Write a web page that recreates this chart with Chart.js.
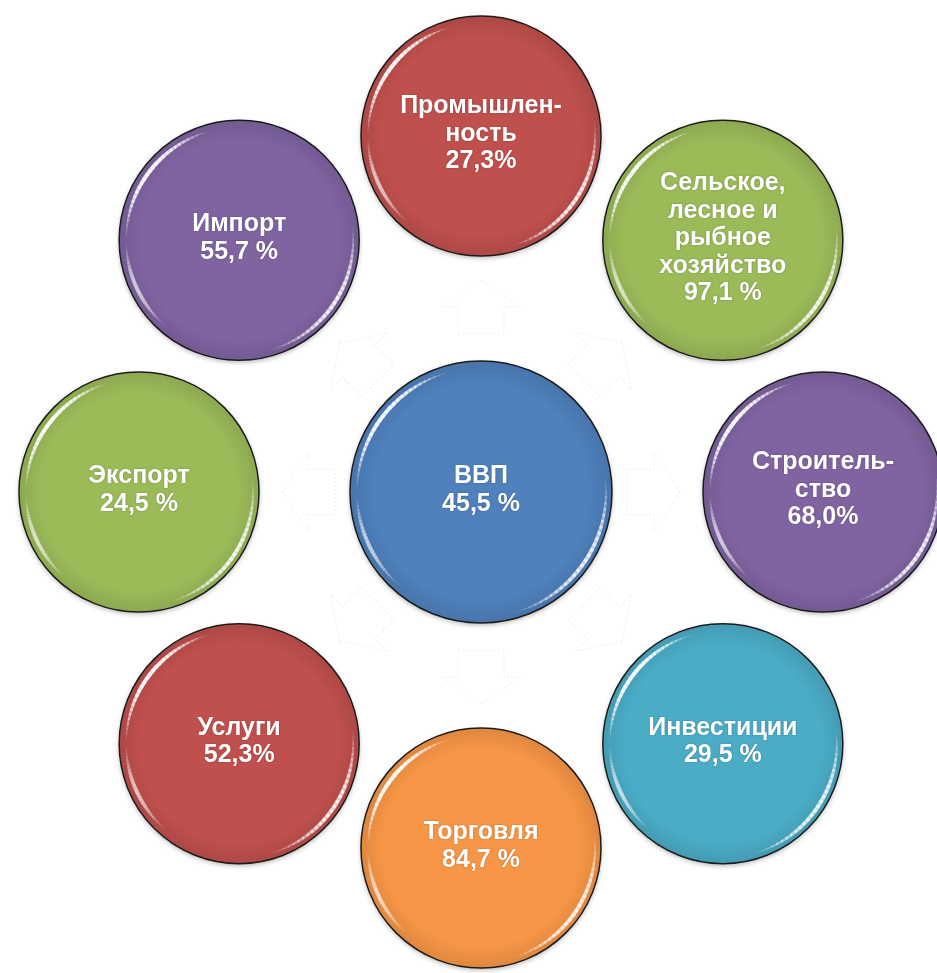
<!DOCTYPE html>
<html lang="ru">
<head>
<meta charset="utf-8">
<title>ВВП</title>
<script src="https://cdn.jsdelivr.net/npm/chart.js@4.4.1/dist/chart.umd.min.js"></script>
<style>
  html, body { margin: 0; padding: 0; background: #ffffff; }
  #contenedor { width: 937px; height: 973px; position: relative; }
</style>
</head>
<body>
<div id="contenedor"><canvas id="graficoCirculos"></canvas></div>
<script>
// Datos del gráfico (el primero es el círculo central)
const rotulos = [
  'ВВП',
  'Промышлен-\nность',
  'Сельское,\nлесное и\nрыбное\nхозяйство',
  'Строитель-\nство',
  'Инвестиции',
  'Торговля',
  'Услуги',
  'Экспорт',
  'Импорт'
];
const valores = [45.5, 27.3, 97.1, 68.0, 29.5, 84.7, 52.3, 24.5, 55.7];
const textosValor = ['45,5 %', '27,3%', '97,1 %', '68,0%', '29,5 %', '84,7 %', '52,3%', '24,5 %', '55,7 %'];
const colores = ['#4f81bd', '#c0504d', '#9bbb59', '#8064a2', '#4bacc6', '#f79646', '#c0504d', '#9bbb59', '#8064a2'];

// Radios de los círculos en píxeles
const RADIO_CENTRO = 131;
const RADIO_EXTERIOR = 120;

// Función para armar los puntos del gráfico de burbujas (anillo alrededor del centro)
function armarPuntos() {
  const puntos = [];
  for (let i = 0; i < rotulos.length; i++) {
    if (i === 0) {
      puntos.push({ x: 0, y: 0, r: RADIO_CENTRO, v: valores[i] });
    } else {
      let ang = (i - 1) * Math.PI / 4;
      puntos.push({ x: Math.sin(ang), y: Math.cos(ang), r: RADIO_EXTERIOR, v: valores[i] });
    }
  }
  return puntos;
}

// Flechas tenues entre el centro y los círculos exteriores
const pluginFlechas = {
  id: 'flechas',
  beforeDatasetsDraw(chart) {
    const ctx = chart.ctx;
    const cx = chart.scales.x.getPixelForValue(0);
    const cy = chart.scales.y.getPixelForValue(0);
    for (let i = 0; i < 8; i++) {
      let ang = i * Math.PI / 4;
      ctx.save();
      ctx.translate(cx + Math.sin(ang) * 172, cy - Math.cos(ang) * 184);
      ctx.rotate(ang);
      ctx.beginPath();
      ctx.moveTo(0, -27);
      ctx.lineTo(40, -1);
      ctx.lineTo(23, -1);
      ctx.lineTo(23, 26);
      ctx.lineTo(-23, 26);
      ctx.lineTo(-23, -1);
      ctx.lineTo(-40, -1);
      ctx.closePath();
      ctx.setLineDash([1.5, 2.5]);
      ctx.lineWidth = 1;
      ctx.strokeStyle = 'rgba(190,190,190,0.35)';
      ctx.stroke();
      ctx.restore();
    }
    // sombra suave debajo de cada círculo
    const meta = chart.getDatasetMeta(0);
    meta.data.forEach(function(el, i) {
      ctx.save();
      ctx.beginPath();
      ctx.arc(el.x, el.y, el.options.radius, 0, Math.PI * 2);
      ctx.shadowColor = 'rgba(0,0,0,0.3)';
      ctx.shadowBlur = 5;
      ctx.shadowOffsetY = 2;
      ctx.fillStyle = colores[i];
      ctx.fill();
      ctx.restore();
    });
  }
};

// Brillo y textos sobre los círculos
const pluginBrillo = {
  id: 'brillo',
  afterDatasetsDraw(chart) {
    const ctx = chart.ctx;
    const meta = chart.getDatasetMeta(0);
    meta.data.forEach(function(el, i) {
      const x = el.x, y = el.y, r = el.options.radius;
      ctx.save();
      ctx.beginPath();
      ctx.arc(x, y, r - 1, 0, Math.PI * 2);
      ctx.clip();
      // borde interior más oscuro
      let g = ctx.createRadialGradient(x, y, r * 0.82, x, y, r);
      g.addColorStop(0, 'rgba(0,0,0,0)');
      g.addColorStop(1, 'rgba(0,0,0,0.1)');
      ctx.fillStyle = g;
      ctx.fillRect(x - r, y - r, 2 * r, 2 * r);
      // arcos brillantes
      dibujarArco(ctx, x, y, r - 7, Math.PI * 1.0, Math.PI * 1.42, 0.85);
      dibujarArco(ctx, x, y, r - 7, Math.PI * 0.72, Math.PI * 1.0, 0.4);
      dibujarArco(ctx, x, y, r - 6, Math.PI * -0.05, Math.PI * 0.42, 0.7);
      ctx.restore();

      // texto
      const lineas = rotulos[i].split('\n').concat([textosValor[i]]);
      const alto = 27.5;
      ctx.save();
      ctx.font = 'bold 25px "Liberation Sans", Arial, sans-serif';
      ctx.fillStyle = '#ffffff';
      ctx.textAlign = 'center';
      ctx.textBaseline = 'middle';
      ctx.shadowColor = 'rgba(0,0,0,0.3)';
      ctx.shadowBlur = 2;
      let y0 = y - (lineas.length - 1) * alto / 2 - 2;
      lineas.forEach(function(t, k) {
        ctx.fillText(t, x, y0 + k * alto);
      });
      ctx.restore();
    });
  }
};

// Función para dibujar un arco blanco que se desvanece en los extremos
function dibujarArco(ctx, x, y, r, a0, a1, alfa) {
  const pasos = 30;
  ctx.lineCap = 'round';
  for (let k = 0; k < pasos; k++) {
    let t = (k + 0.5) / pasos;
    let a = a0 + (a1 - a0) * k / pasos;
    let b = a0 + (a1 - a0) * (k + 1) / pasos;
    ctx.beginPath();
    ctx.arc(x, y, r, a, b);
    ctx.strokeStyle = 'rgba(255,255,255,' + (alfa * Math.sin(Math.PI * t)).toFixed(3) + ')';
    ctx.lineWidth = 3.5 * Math.sin(Math.PI * t) + 0.5;
    ctx.stroke();
  }
}

// Generar el gráfico
const ctx = document.getElementById('graficoCirculos').getContext('2d');
window.myChart = new Chart(ctx, {
  type: 'bubble',
  data: {
    labels: rotulos,
    datasets: [{
      label: 'ВВП',
      data: armarPuntos(),
      backgroundColor: colores,
      borderColor: '#1b1b1b',
      borderWidth: 1.5,
      hoverRadius: 0
    }]
  },
  options: {
    responsive: true,
    maintainAspectRatio: false,
    animation: false,
    events: [],
    layout: { padding: 0, autoPadding: false },
    clip: false,
    plugins: {
      legend: { display: false },
      tooltip: { enabled: false }
    },
    scales: {
      x: { type: 'linear', min: -481 / 342, max: 456 / 342, display: false },
      y: { type: 'linear', min: -481 / 356, max: 492 / 356, display: false }
    }
  },
  plugins: [pluginFlechas, pluginBrillo]
});
</script>
</body>
</html>
